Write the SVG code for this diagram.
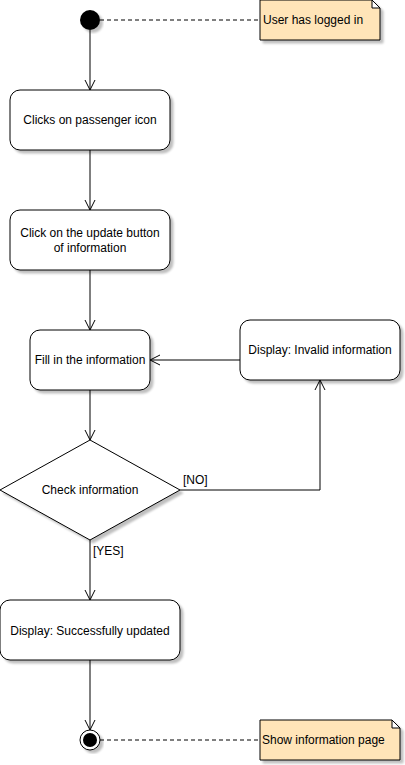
<svg xmlns="http://www.w3.org/2000/svg" width="405" height="765" viewBox="0 0 405 765">
<defs>
<filter id="sh" x="-10%" y="-10%" width="130%" height="130%">
<feOffset in="SourceAlpha" dx="3" dy="3" result="o"/>
<feColorMatrix in="o" type="matrix" values="0 0 0 0 0  0 0 0 0 0  0 0 0 0 0  0 0 0 0.25 0" result="c"/>
<feGaussianBlur in="c" stdDeviation="0.8" result="b"/>
<feMerge><feMergeNode in="b"/><feMergeNode in="SourceGraphic"/></feMerge>
</filter>
<marker id="arr" viewBox="0 0 12 12" refX="11" refY="6" markerWidth="12" markerHeight="12" markerUnits="userSpaceOnUse" orient="auto">
<path d="M1,1 L11,6 L1,11" fill="none" stroke="#000" stroke-width="1"/>
</marker>
</defs>
<style>
.box{fill:#fff;stroke:#000;stroke-width:1;filter:url(#sh)}
.note{fill:#FFE4B8;stroke:#000;stroke-width:1;filter:url(#sh)}
.fold{fill:#fff;stroke:#000;stroke-width:1}
text{font-family:"Liberation Sans",Arial,sans-serif;font-size:12px;fill:#000}
.c{text-anchor:middle}
.edge{fill:none;stroke:#000;stroke-width:1}
.dash{fill:none;stroke:#000;stroke-width:1;stroke-dasharray:4,3}
</style>
<rect width="405" height="765" fill="#fff"/>
<g id="connectors">
<line class="dash" x1="100" y1="20" x2="260" y2="20"/>
<line class="dash" x1="100" y1="740" x2="260" y2="740"/>
<line class="edge" x1="90" y1="30" x2="90" y2="90" marker-end="url(#arr)"/>
<line class="edge" x1="90" y1="150" x2="90" y2="210" marker-end="url(#arr)"/>
<line class="edge" x1="90" y1="270" x2="90" y2="330" marker-end="url(#arr)"/>
<line class="edge" x1="90" y1="390" x2="90" y2="440" marker-end="url(#arr)"/>
<line class="edge" x1="240" y1="360" x2="150" y2="360" marker-end="url(#arr)"/>
<polyline class="edge" points="180,490 320,490 320,380" marker-end="url(#arr)"/>
<line class="edge" x1="90" y1="540" x2="90" y2="600" marker-end="url(#arr)"/>
<line class="edge" x1="90" y1="660" x2="90" y2="730" marker-end="url(#arr)"/>
<text x="183" y="484">[NO]</text>
<text x="93" y="555">[YES]</text>
</g>
<g id="start">
<circle cx="90" cy="20" r="10" fill="#000" filter="url(#sh)"/>
</g>
<g id="note1">
<path class="note" d="M260,0 L372,0 L380,8 L380,40 L260,40 Z"/>
<path class="fold" d="M372,0 L372,8 L380,8 Z"/>
<text x="263" y="24">User has logged in</text>
</g>
<g id="n1">
<rect class="box" x="10" y="90" width="160" height="60" rx="10"/>
<text class="c" x="90" y="124">Clicks on passenger icon</text>
</g>
<g id="n2">
<rect class="box" x="10" y="210" width="160" height="60" rx="10"/>
<text class="c" x="90" y="237">Click on the update button</text>
<text class="c" x="90" y="252">of information</text>
</g>
<g id="n3">
<rect class="box" x="30" y="330" width="120" height="60" rx="10"/>
<text class="c" x="90" y="364">Fill in the information</text>
</g>
<g id="n4">
<rect class="box" x="240" y="320" width="160" height="60" rx="10"/>
<text class="c" x="320" y="354">Display: Invalid information</text>
</g>
<g id="decision">
<path class="box" d="M90,440 L180,490 L90,540 L0,490 Z"/>
<text class="c" x="90" y="494">Check information</text>
</g>
<g id="n5">
<rect class="box" x="0" y="600" width="180" height="60" rx="10"/>
<text class="c" x="90" y="635">Display: Successfully updated</text>
</g>
<g id="end">
<circle cx="90" cy="740" r="10" fill="#fff" stroke="#000" stroke-width="1" filter="url(#sh)"/>
<circle cx="90" cy="740" r="7" fill="#000"/>
</g>
<g id="note2">
<path class="note" d="M260,720 L392,720 L400,728 L400,760 L260,760 Z"/>
<path class="fold" d="M392,720 L392,728 L400,728 Z"/>
<text x="262" y="744">Show information page</text>
</g>
</svg>
